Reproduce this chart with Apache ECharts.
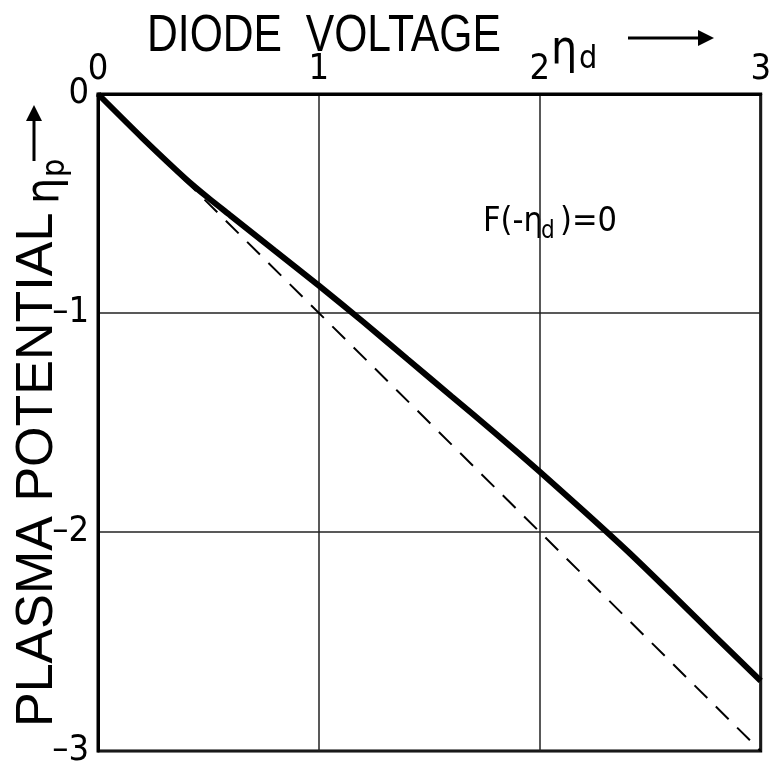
<!DOCTYPE html>
<html>
<head>
<meta charset="utf-8">
<script src="https://cdn.jsdelivr.net/npm/echarts@6/dist/echarts.min.js"></script>
<style>
  html, body { margin: 0; padding: 0; background: #fff; }
  #chart { width: 774px; height: 769px; }
</style>
</head>
<body>
<div id="chart"></div>
<script>
// Diode voltage (x) and plasma potential (y), both in normalised units
const diodeVoltage = [0, 0.2, 0.4, 0.5, 0.6, 0.8, 1.0, 1.2, 1.4, 1.6, 1.8, 2.0, 2.2, 2.4, 2.6, 2.8, 3.0];
const plasmaPotential = [0, -0.2, -0.39, -0.475, -0.555, -0.715, -0.875, -1.04, -1.21, -1.38, -1.55, -1.725, -1.905, -2.09, -2.285, -2.483, -2.68];
// Reference line eta_p = -eta_d
const refX = [0, 3];
const refY = [0, -3];
const xTicks = [0, 1, 2, 3];
const yTicks = [0, -1, -2, -3];

const TITLE_FONT = '"Liberation Sans", Arial, sans-serif';
const FONT = '"DejaVu Sans Condensed", "DejaVu Sans", sans-serif';

const chart = echarts.init(document.getElementById('chart'), null, { renderer: 'canvas' });

const curve = diodeVoltage.map((x, i) => [x, plasmaPotential[i]]);
const ref = refX.map((x, i) => [x, refY[i]]);

chart.setOption({
  backgroundColor: '#ffffff',
  animation: false,
  grid: {
    left: 98, top: 94, right: 10, bottom: 8,
    show: true, borderColor: '#000', borderWidth: 3, backgroundColor: 'transparent'
  },
  xAxis: {
    type: 'value', position: 'top',
    min: xTicks[0], max: xTicks[xTicks.length - 1], interval: 1,
    axisLine: { show: true, lineStyle: { color: '#000', width: 3 } },
    axisTick: { show: false },
    splitLine: { show: true, lineStyle: { color: '#222', width: 1.5 } },
    axisLabel: { color: '#000', fontFamily: FONT, fontSize: 36, margin: 6 }
  },
  yAxis: {
    type: 'value',
    min: yTicks[yTicks.length - 1], max: yTicks[0], interval: 1,
    axisLine: { show: true, lineStyle: { color: '#000', width: 3 } },
    axisTick: { show: false },
    splitLine: { show: true, lineStyle: { color: '#222', width: 1.5 } },
    axisLabel: {
      color: '#000', fontFamily: FONT, fontSize: 36, margin: 9,
      formatter: v => String(v).replace('-', '\u2013')
    }
  },
  series: [
    {
      type: 'line', data: ref, symbol: 'none', silent: true,
      lineStyle: { color: '#000', width: 2, type: [18, 12] }
    },
    {
      type: 'line', data: curve, symbol: 'none', smooth: 0.25, silent: true,
      lineStyle: { color: '#000', width: 6 }
    }
  ],
  graphic: [
    // top axis title
    { type: 'text', x: 147, y: 37, scaleX: 0.82, style: { text: 'DIODE  VOLTAGE', font: '52px ' + TITLE_FONT, fill: '#000', textAlign: 'left', textVerticalAlign: 'middle' } },
    { type: 'text', x: 551, y: 51, style: { text: '\u03b7', font: '46px ' + FONT, fill: '#000', textAlign: 'left', textVerticalAlign: 'middle' } },
    { type: 'text', x: 579, y: 60, style: { text: 'd', font: '32px ' + FONT, fill: '#000', textAlign: 'left', textVerticalAlign: 'middle' } },
    { type: 'line', shape: { x1: 628, y1: 38, x2: 702, y2: 38 }, style: { stroke: '#000', lineWidth: 3 } },
    { type: 'polygon', shape: { points: [[698, 30], [714, 38], [698, 46]] }, style: { fill: '#000' } },
    // left axis title, reading upward
    {
      type: 'group', x: 38, y: 727, rotation: Math.PI / 2,
      children: [
        { type: 'text', x: 0, y: 0, style: { text: 'PLASMA POTENTIAL', font: '52px ' + TITLE_FONT, fill: '#000', textAlign: 'left', textVerticalAlign: 'middle' } },
        { type: 'text', x: 523, y: 8, style: { text: '\u03b7', font: '46px ' + FONT, fill: '#000', textAlign: 'left', textVerticalAlign: 'middle' } },
        { type: 'text', x: 550, y: 18, style: { text: 'p', font: '32px ' + FONT, fill: '#000', textAlign: 'left', textVerticalAlign: 'middle' } },
        { type: 'line', shape: { x1: 566, y1: -4, x2: 612, y2: -4 }, style: { stroke: '#000', lineWidth: 3 } },
        { type: 'polygon', shape: { points: [[606, -12], [622, -4], [606, 4]] }, style: { fill: '#000' } }
      ]
    },
    // curve annotation
    { type: 'text', x: 483, y: 222, style: { text: 'F(-\u03b7', font: '34px ' + FONT, fill: '#000', textAlign: 'left', textVerticalAlign: 'middle' } },
    { type: 'text', x: 541, y: 232, style: { text: 'd', font: '24px ' + FONT, fill: '#000', textAlign: 'left', textVerticalAlign: 'middle' } },
    { type: 'text', x: 560, y: 222, style: { text: ')=0', font: '34px ' + FONT, fill: '#000', textAlign: 'left', textVerticalAlign: 'middle' } }
  ]
});
</script>
</body>
</html>
